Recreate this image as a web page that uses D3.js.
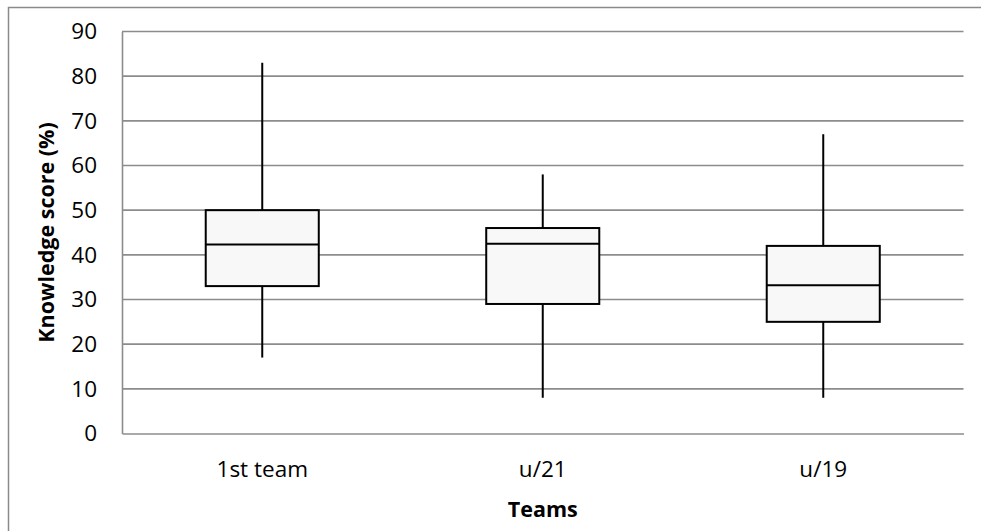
<!DOCTYPE html>
<html>
<head>
<meta charset="utf-8">
<script src="https://cdn.jsdelivr.net/npm/d3@7"></script>
<style>
  html, body { margin: 0; padding: 0; background: #fff; }
  svg { display: block; font-family: "Open Sans", sans-serif; }
</style>
</head>
<body>
<svg id="chart" width="981" height="531"></svg>
<script>
// Knowledge score distribution per team (box-and-whisker summary)
const teams   = ["1st team", "u/21", "u/19"];
const minimum = [17, 8, 8];
const q1      = [33, 29, 25];
const median  = [42.3, 42.5, 33.2];
const q3      = [50, 46, 42];
const maximum = [83, 58, 67];
const yTicks  = [0, 10, 20, 30, 40, 50, 60, 70, 80, 90];

const FONT = "'Open Sans', sans-serif";
const svg = d3.select("#chart");
const W = 981, H = 531;
const plot = { left: 122, right: 963.5, top: 31.5, bottom: 433.5 };

// outer chart frame
svg.append("rect")
  .attr("x", 8.5).attr("y", 7.5)
  .attr("width", W + 10).attr("height", H + 10)
  .attr("fill", "none").attr("stroke", "#8a8a8a").attr("stroke-width", 1.5);

const x = d3.scaleBand().domain(teams).range([plot.left, plot.right]).padding(0);
const y = d3.scaleLinear().domain([0, 90]).range([plot.bottom, plot.top]);

// horizontal gridlines
svg.append("g")
  .selectAll("line")
  .data(yTicks.filter(t => t > 0))
  .join("line")
  .attr("x1", plot.left).attr("x2", plot.right)
  .attr("y1", d => y(d)).attr("y2", d => y(d))
  .attr("stroke", "#8c8c8c").attr("stroke-width", 1.6);

// y axis
const yAxis = svg.append("g")
  .attr("transform", `translate(${plot.left},0)`)
  .call(d3.axisLeft(y).tickValues(yTicks).tickSize(0).tickPadding(25));
yAxis.select(".domain").attr("stroke", "#8c8c8c").attr("stroke-width", 1.6);
yAxis.selectAll("text")
  .attr("fill", "#000")
  .style("font-family", FONT).style("font-size", "22.5px");

// x axis
const xAxis = svg.append("g")
  .attr("transform", `translate(0,${plot.bottom})`)
  .call(d3.axisBottom(x).tickSize(0));
xAxis.select(".domain").attr("stroke", "#8c8c8c").attr("stroke-width", 1.6);
xAxis.selectAll("text")
  .attr("y", 43.5).attr("dy", 0)
  .attr("fill", "#000")
  .style("font-family", FONT).style("font-size", "22.5px");

// axis titles
svg.append("text")
  .attr("x", (plot.left + plot.right) / 2).attr("y", 517)
  .attr("text-anchor", "middle")
  .style("font-family", FONT).style("font-size", "21.5px").attr("font-weight", "bold")
  .text("Teams");

svg.append("text")
  .attr("transform", `translate(54,${(plot.top + plot.bottom) / 2}) rotate(-90)`)
  .attr("text-anchor", "middle")
  .style("font-family", FONT).style("font-size", "21.5px").attr("font-weight", "bold")
  .text("Knowledge score (%)");

// boxes
const boxW = x.bandwidth() * 0.403;
const g = svg.append("g");
teams.forEach((t, i) => {
  const cx = x(t) + x.bandwidth() / 2;
  // whiskers
  g.append("line")
    .attr("x1", cx).attr("x2", cx)
    .attr("y1", y(maximum[i])).attr("y2", y(q3[i]))
    .attr("stroke", "#000").attr("stroke-width", 2);
  g.append("line")
    .attr("x1", cx).attr("x2", cx)
    .attr("y1", y(q1[i])).attr("y2", y(minimum[i]))
    .attr("stroke", "#000").attr("stroke-width", 2);
  // interquartile box
  g.append("rect")
    .attr("x", cx - boxW / 2).attr("y", y(q3[i]))
    .attr("width", boxW).attr("height", y(q1[i]) - y(q3[i]))
    .attr("fill", "#f8f8f8").attr("stroke", "#000").attr("stroke-width", 2);
  // median
  g.append("line")
    .attr("x1", cx - boxW / 2).attr("x2", cx + boxW / 2)
    .attr("y1", y(median[i])).attr("y2", y(median[i]))
    .attr("stroke", "#000").attr("stroke-width", 2);
});
</script>
</body>
</html>
